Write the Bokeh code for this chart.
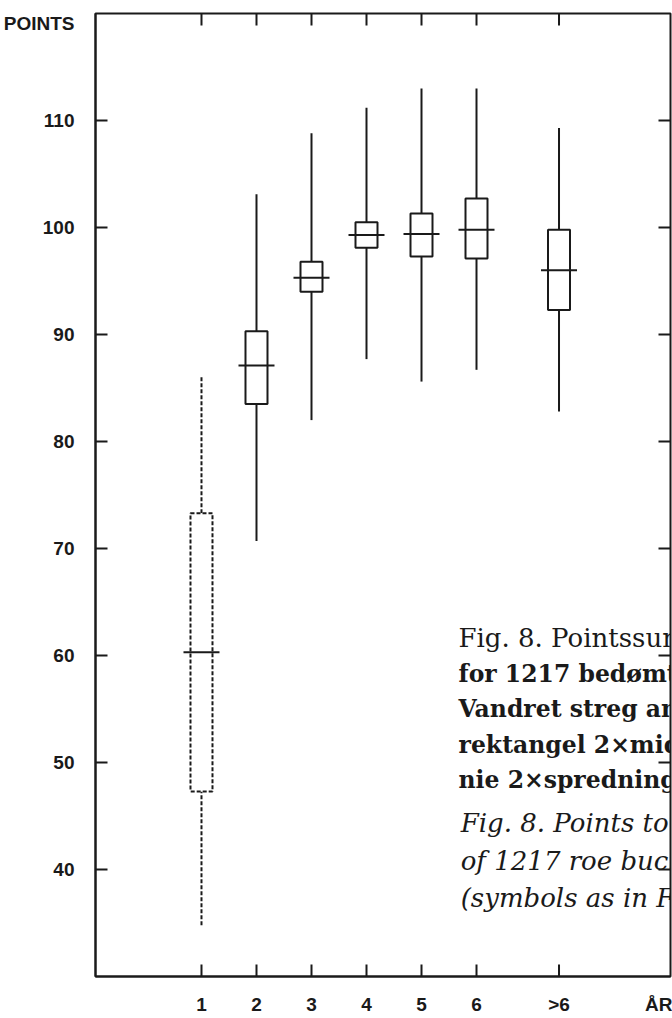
import math
from bokeh.plotting import figure
from bokeh.models import ColumnDataSource, FixedTicker, Range1d
from bokeh.core.properties import value
from bokeh.embed import file_html
from bokeh.resources import INLINE

# ---------------- data ----------------
categories = ["1", "2", "3", "4", "5", "6", ">6"]
positions = [1, 2, 3, 4, 5, 6, 7.5]
whisker_high = [86.0, 103.1, 108.8, 111.2, 113.0, 113.0, 109.3]
box_top = [73.3, 90.3, 96.8, 100.5, 101.3, 102.7, 99.8]
median = [60.3, 87.1, 95.3, 99.3, 99.4, 99.8, 96.0]
box_bottom = [47.3, 83.5, 94.0, 98.1, 97.3, 97.1, 92.3]
whisker_low = [34.8, 70.7, 82.0, 87.7, 85.6, 86.7, 82.8]
y_ticks = [40, 50, 60, 70, 80, 90, 100, 110]
y_label = "POINTS"
x_label = "ÅR"
caption_da_normal = ["Fig. 8. Pointssum"]
caption_da_bold = ["for 1217 bedømte", "Vandret streg angiver", "rektangel 2×middelfejl", "nie 2×spredning"]
caption_en = ["Fig. 8. Points total", "of 1217 roe bucks", "(symbols as in Fig. 7)"]

INK = "#1a1a1a"
SANS = "Liberation Sans"
SERIF = "DejaVu Serif"

X0, X1 = -0.927, 9.527
Y0, Y1 = 30, 120

p = figure(width=672, height=1018,
           x_range=Range1d(X0, X1), y_range=Range1d(Y0, Y1),
           output_backend="svg", toolbar_location=None,
           min_border_left=95, min_border_right=2, min_border_top=13, min_border_bottom=42)
p.xgrid.visible = False
p.ygrid.visible = False
p.background_fill_color = "white"
p.border_fill_color = "white"
p.outline_line_color = INK
p.outline_line_width = 2

# axis titles are placed as extra tick labels
y_label_pos = 119.07
x_label_pos = 9.45

for ax, ticks, labels, extra_pos, extra_txt, standoff in (
        (p.yaxis[0], y_ticks, [str(t) for t in y_ticks], y_label_pos, y_label, 21),
        (p.xaxis[0], positions, categories, x_label_pos, x_label, 17)):
    ax.ticker = FixedTicker(ticks=list(ticks) + [extra_pos])
    overrides = {t: l for t, l in zip(ticks, labels)}
    overrides[extra_pos] = extra_txt
    ax.major_label_overrides = overrides
    ax.major_tick_in = 0
    ax.major_tick_out = 0
    ax.minor_tick_line_color = None
    ax.axis_line_color = INK
    ax.axis_line_width = 2
    ax.major_label_text_font = SANS
    ax.major_label_text_font_style = "bold"
    ax.major_label_text_font_size = "19px"
    ax.major_label_text_color = INK
    ax.major_label_standoff = standoff

# inward tick marks on all four sides (dash markers centred on the frame edge,
# the outer half is clipped away by the frame)
n_x, n_y = len(positions), len(y_ticks)
p.scatter(x=positions * 2, y=[Y0] * n_x + [Y1] * n_x, marker="dash", angle=math.pi / 2,
          size=24, line_color=INK, line_width=2)
p.scatter(x=[X0] * n_y + [X1] * n_y, y=y_ticks * 2, marker="dash",
          size=24, line_color=INK, line_width=2)

# ---------------- boxes ----------------
def make_source(idx):
    return ColumnDataSource(dict(
        x=[positions[i] for i in idx],
        wh=[whisker_high[i] for i in idx],
        bt=[box_top[i] for i in idx],
        med=[median[i] for i in idx],
        bb=[box_bottom[i] for i in idx],
        wl=[whisker_low[i] for i in idx],
    ))

groups = [([0], "4 2"), (list(range(1, len(positions))), "solid")]
for idx, dash in groups:
    src = make_source(idx)
    p.segment(x0="x", y0="wl", x1="x", y1="bb", source=src,
              line_color=INK, line_width=2, line_dash=dash)
    p.segment(x0="x", y0="bt", x1="x", y1="wh", source=src,
              line_color=INK, line_width=2, line_dash=dash)
    p.vbar(x="x", width=0.4, top="bt", bottom="bb", source=src,
           fill_color="white", line_color=INK, line_width=2, line_dash=dash)
    p.scatter(x="x", y="med", source=src, marker="dash", size=36,
              line_color=INK, line_width=2)

# ---------------- caption ----------------
cap_x = 5.673
p.text(x=[cap_x], y=[61.6], text=caption_da_normal,
       text_font=value(SERIF), text_font_size="26px", text_color=INK,
       text_baseline="alphabetic", text_align="left")
p.text(x=[cap_x] * len(caption_da_bold),
       y=[58.28 - 3.32 * i for i in range(len(caption_da_bold))],
       text=caption_da_bold, text_font=value(SERIF), text_font_size="23.5px",
       text_font_style="bold", text_color=INK,
       text_baseline="alphabetic", text_align="left")
p.text(x=[cap_x + 0.04] * len(caption_en),
       y=[44.3 - 3.46 * i for i in range(len(caption_en))],
       text=caption_en, text_font=value(SERIF), text_font_size="26px",
       text_font_style="italic", text_color=INK,
       text_baseline="alphabetic", text_align="left")

open("out.html", "w").write(file_html(p, INLINE))
